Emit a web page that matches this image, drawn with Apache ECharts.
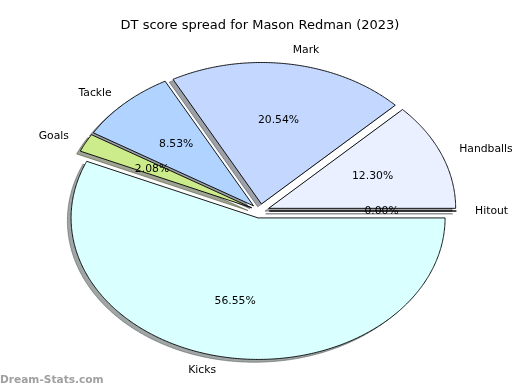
<!DOCTYPE html>
<html>
<head>
<meta charset="utf-8">
<script src="https://cdn.jsdelivr.net/npm/echarts@6/dist/echarts.min.js"></script>
<style>
html,body{margin:0;padding:0;background:#fff;}
#chart{width:520px;height:390px;}
</style>
</head>
<body>
<div id="chart"></div>
<script>
// ---- data ----
const categories = ['Hitout', 'Handballs', 'Mark', 'Tackle', 'Goals', 'Kicks'];
const values = [0.00, 12.30, 20.54, 8.53, 2.08, 56.55];
const titleText = 'DT score spread for Mason Redman (2023)';
const watermark = 'Dream-Stats.com';

// ---- styles / layout ----
const colors = ['#e0e8ff', '#eaf0ff', '#c4d8ff', '#b0d4ff', '#cceb8a', '#d9ffff'];
const CX = 260, CY = 211, RX = 187, RY = 141.5;
const EXPLODE = 0.05, LABEL_D = 1.1, PCT_D = 0.6;
const SH_DX = -3.7, SH_DY = 2.8;
const FONT = 'DejaVu Sans';

const total = values.reduce((a, b) => a + b, 0);
const starts = [];
values.reduce((acc, v, i) => { starts[i] = acc; return acc + v; }, 0);

function shadowColor(hex) {
  const n = parseInt(hex.slice(1), 16);
  const r = Math.round(((n >> 16) & 255) * 0.3);
  const g = Math.round(((n >> 8) & 255) * 0.3);
  const b = Math.round((n & 255) * 0.3);
  return 'rgba(' + r + ',' + g + ',' + b + ',0.5)';
}

function renderItem(params, api) {
  const i = params.dataIndex;
  const v = api.value(0);
  const t1 = starts[i] / total * 360;
  const t2 = t1 + v / total * 360;
  const tm = (t1 + t2) / 2 * Math.PI / 180;
  const vx = CX + EXPLODE * RX * Math.cos(tm);
  const vy = CY - EXPLODE * RY * Math.sin(tm);
  const pts = [[vx, vy]];
  const steps = Math.max(2, Math.ceil((t2 - t1) / 0.5));
  for (let k = 0; k <= steps; k++) {
    const a = (t1 + (t2 - t1) * k / steps) * Math.PI / 180;
    pts.push([vx + RX * Math.cos(a), vy - RY * Math.sin(a)]);
  }
  pts.push([vx, vy]);
  const spts = pts.map(p => [p[0] + SH_DX, p[1] + SH_DY]);
  const sc = shadowColor(colors[i]);
  const lx = vx + LABEL_D * RX * Math.cos(tm);
  const ly = vy - LABEL_D * RY * Math.sin(tm);
  const px = vx + PCT_D * RX * Math.cos(tm);
  const py = vy - PCT_D * RY * Math.sin(tm);
  return {
    type: 'group',
    children: [
      { type: 'polygon', z2: 0, shape: { points: spts },
        style: { fill: sc, stroke: sc, lineWidth: 1 } },
      { type: 'polygon', z2: 5, shape: { points: pts },
        style: { fill: colors[i], stroke: '#000', lineWidth: 0.9, lineJoin: 'miter' } },
      { type: 'text', z2: 10, x: lx, y: ly,
        style: { text: categories[i], fill: '#000', font: '10.8px "' + FONT + '"',
          align: lx > CX ? 'left' : 'right', verticalAlign: 'middle' } },
      { type: 'text', z2: 10, x: px, y: py,
        style: { text: (v / total * 100).toFixed(2) + '%', fill: '#000', font: '10.8px "' + FONT + '"',
          align: 'center', verticalAlign: 'middle' } }
    ]
  };
}

const chart = echarts.init(document.getElementById('chart'), null, { renderer: 'canvas' });
chart.setOption({
  animation: false,
  backgroundColor: '#fff',
  title: {
    text: titleText, left: 'center', top: 19, padding: 0,
    textStyle: { fontFamily: FONT, fontSize: 13, fontWeight: 'normal', color: '#000' }
  },
  graphic: [{
    type: 'text', left: 0, top: 375,
    style: { text: watermark, font: 'bold 10.6px "' + FONT + '"', fill: '#a0a0a0' }
  }],
  series: [{
    type: 'custom',
    coordinateSystem: 'none',
    renderItem: renderItem,
    data: values.map(v => [v])
  }]
});
</script>
</body>
</html>
